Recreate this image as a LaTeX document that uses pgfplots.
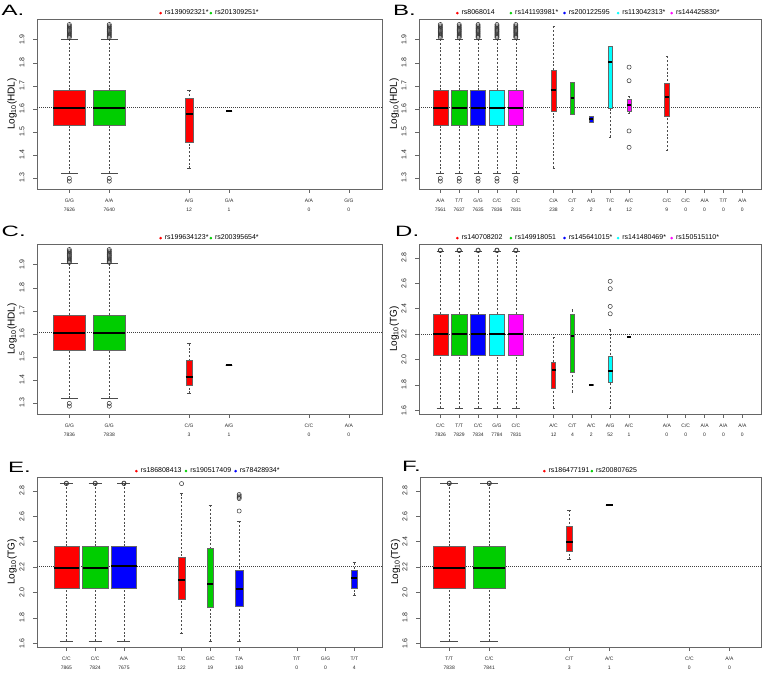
\documentclass[border=0pt]{standalone}
\usepackage{fontspec}
\setmainfont{Liberation Sans}
\usepackage{graphicx}
\usepackage{pgfplots}
\usepackage{pgfplotstable}
\pgfplotsset{compat=1.18}
\usepgfplotslibrary{statistics}

\definecolor{rred}{HTML}{FF0000}
\definecolor{rgreen}{HTML}{00CD00}
\definecolor{rblue}{HTML}{0000FF}
\definecolor{rcyan}{HTML}{00FFFF}
\definecolor{rmag}{HTML}{FF00FF}

% outliers of the big groups
\pgfplotstableread[row sep=\\]{d\\1.91\\1.915\\1.92\\1.925\\1.93\\1.935\\1.94\\1.945\\1.95\\1.955\\1.96\\1.966\\1.298\\1.286\\}\hdlout
\pgfplotstableread[row sep=\\]{d\\2.858\\2.862\\}\tgout
% outliers of the small groups
\pgfplotstableread[row sep=\\]{d\\1.781\\1.722\\1.504\\1.433\\}\bmagout
\pgfplotstableread[row sep=\\]{d\\2.616\\2.558\\2.418\\2.36\\}\dcyanout
\pgfplotstableread[row sep=\\]{d\\2.858\\}\eredout
\pgfplotstableread[row sep=\\]{d\\2.642\\2.74\\2.75\\2.76\\2.772\\}\eblueout

\tikzset{
  wsk/.style={black!70, line width=0.5pt, dash pattern=on 2pt off 1.8pt},
  stp/.style={black!70, line width=0.6pt, solid},
  refl/.style={black!75, line width=0.5pt, dash pattern=on 0.8pt off 1.2pt},
}

\pgfplotsset{
  boxplot/draw/lower whisker/.code={%
    \draw[wsk] (boxplot cs:\pgfplotsboxplotvalue{lower whisker}) -- (boxplot cs:\pgfplotsboxplotvalue{lower quartile});
    \draw[stp] (boxplot whisker cs:\pgfplotsboxplotvalue{lower whisker},0) -- (boxplot whisker cs:\pgfplotsboxplotvalue{lower whisker},1);
  },
  boxplot/draw/upper whisker/.code={%
    \draw[wsk] (boxplot cs:\pgfplotsboxplotvalue{upper whisker}) -- (boxplot cs:\pgfplotsboxplotvalue{upper quartile});
    \draw[stp] (boxplot whisker cs:\pgfplotsboxplotvalue{upper whisker},0) -- (boxplot whisker cs:\pgfplotsboxplotvalue{upper whisker},1);
  },
  bx/.style={forget plot, black, mark=o, mark size=2.1pt,
    boxplot/draw direction=y,
    mark options={black!80, solid, line width=0.5pt, fill=none},
    boxplot/every box/.style={fill=#1, draw=black!60, line width=0.4pt},
    boxplot/every median/.style={black, line width=2pt}},
  panel/.style={
    scale only axis, width=#1, height=170pt, anchor=south west,
    axis line style={black!60, line width=0.6pt},
    tick pos=left, tick align=outside, major tick length=4pt,
    tick style={black!60, line width=0.5pt},
    xticklabel style={align=center, font=\fontsize{5}{9.5}\selectfont, text=black!85},
    yticklabel style={rotate=90, anchor=south, font=\fontsize{7}{8}\selectfont, text=black!85},
    yticklabel shift=5pt, xticklabel shift=2pt,
    ylabel style={at={(axis description cs:-0.072,0.5)}, anchor=center, font=\fontsize{10}{11}\selectfont},
    legend style={at={(0.5,1)}, anchor=south, yshift=1.5pt, draw=none, fill=none,
      inner sep=0pt, font=\fontsize{7}{8}\selectfont, nodes={inner sep=1pt},
      /tikz/every odd column/.append style={column sep=2pt}},
    legend columns=-1,
    legend image code/.code={\fill[##1] (0pt,0pt) circle (1.1pt);},
  },
  hdl/.style={ymin=1.252, ymax=1.99, ytick={1.3,1.4,1.5,1.6,1.7,1.8,1.9},
    yticklabels={1.3,1.4,1.5,1.6,1.7,1.8,1.9}, ylabel={Log\textsubscript{10}(HDL)}},
  tg/.style={ymin=1.57, ymax=2.91, ytick={1.6,1.8,2.0,2.2,2.4,2.6,2.8},
    yticklabels={1.6,1.8,2.0,2.2,2.4,2.6,2.8}, ylabel={Log\textsubscript{10}(TG)}},
}

\newcommand{\plab}[1]{\fontsize{15}{15}\selectfont\scalebox{1.6}[1]{#1}}

\begin{document}
\begin{tikzpicture}
\useasboundingbox (0,0) rectangle (765pt,672pt);

% ---------------- A ----------------
\begin{axis}[panel=345pt, at={(37pt,483pt)}, hdl,
  xmin=0.19, xmax=8.83, xtick={1,2,4,5,7,8},
  xticklabels={{G/G\\7626},{A/A\\7640},{A/G\\12},{G/A\\1},{A/A\\0},{G/G\\0}}]
\addlegendimage{rred}\addlegendentry{rs139092321*}
\addlegendimage{rgreen}\addlegendentry{rs201309251*}
\addplot[forget plot, refl] coordinates {(0.19,1.606) (8.83,1.606)};
\addplot[bx=rred, boxplot prepared={draw position=1, median=1.603, lower quartile=1.53, upper quartile=1.682, lower whisker=1.321, upper whisker=1.903, box extend=0.8, whisker extend=0.42}] table[y index=0] {\hdlout};
\addplot[bx=rgreen, boxplot prepared={draw position=2, median=1.603, lower quartile=1.53, upper quartile=1.682, lower whisker=1.321, upper whisker=1.903, box extend=0.8, whisker extend=0.42}] table[y index=0] {\hdlout};
\addplot[bx=rred, boxplot prepared={draw position=4, median=1.578, lower quartile=1.454, upper quartile=1.647, lower whisker=1.341, upper whisker=1.682, box extend=0.18, whisker extend=0.1}] coordinates {};
\addplot[bx=rred, boxplot prepared={draw position=5, median=1.59, lower quartile=1.59, upper quartile=1.59, lower whisker=1.59, upper whisker=1.59, box extend=0.15, whisker extend=0}] coordinates {};
\end{axis}

% ---------------- B ----------------
\begin{axis}[panel=342pt, at={(419pt,483pt)}, hdl,
  xmin=-0.13, xmax=17.99, xtick={1,2,3,4,5,7,8,9,10,11,13,14,15,16,17},
  xticklabels={{A/A\\7561},{T/T\\7637},{G/G\\7635},{C/C\\7836},{C/C\\7831},{C/A\\238},{C/T\\2},{A/G\\2},{T/C\\4},{A/C\\12},{C/C\\9},{C/C\\0},{A/A\\0},{T/T\\0},{A/A\\0}}]
\addlegendimage{rred}\addlegendentry{\makebox[47pt][l]{rs8068014}}
\addlegendimage{rgreen}\addlegendentry{\makebox[47pt][l]{rs141193981*}}
\addlegendimage{rblue}\addlegendentry{\makebox[47pt][l]{rs200122595}}
\addlegendimage{rcyan}\addlegendentry{\makebox[47pt][l]{rs113042313*}}
\addlegendimage{rmag}\addlegendentry{\makebox[47pt][l]{rs144425830*}}
\addplot[forget plot, refl] coordinates {(-0.13,1.605) (17.99,1.605)};
\addplot[bx=rred, boxplot prepared={draw position=1, median=1.603, lower quartile=1.53, upper quartile=1.682, lower whisker=1.321, upper whisker=1.903, box extend=0.8, whisker extend=0.42}] table[y index=0] {\hdlout};
\addplot[bx=rgreen, boxplot prepared={draw position=2, median=1.603, lower quartile=1.53, upper quartile=1.682, lower whisker=1.321, upper whisker=1.903, box extend=0.8, whisker extend=0.42}] table[y index=0] {\hdlout};
\addplot[bx=rblue, boxplot prepared={draw position=3, median=1.603, lower quartile=1.53, upper quartile=1.682, lower whisker=1.321, upper whisker=1.903, box extend=0.8, whisker extend=0.42}] table[y index=0] {\hdlout};
\addplot[bx=rcyan, boxplot prepared={draw position=4, median=1.603, lower quartile=1.53, upper quartile=1.682, lower whisker=1.321, upper whisker=1.903, box extend=0.8, whisker extend=0.42}] table[y index=0] {\hdlout};
\addplot[bx=rmag, boxplot prepared={draw position=5, median=1.603, lower quartile=1.53, upper quartile=1.682, lower whisker=1.321, upper whisker=1.903, box extend=0.8, whisker extend=0.42}] table[y index=0] {\hdlout};
\addplot[bx=rred, boxplot prepared={draw position=7, median=1.681, lower quartile=1.59, upper quartile=1.769, lower whisker=1.344, upper whisker=1.958, box extend=0.3, whisker extend=0.1}] coordinates {};
\addplot[bx=rgreen, boxplot prepared={draw position=8, median=1.647, lower quartile=1.578, upper quartile=1.714, lower whisker=1.578, upper whisker=1.714, box extend=0.2, whisker extend=0}] coordinates {};
\addplot[bx=rblue, boxplot prepared={draw position=9, median=1.555, lower quartile=1.543, upper quartile=1.568, lower whisker=1.543, upper whisker=1.568, box extend=0.22, whisker extend=0}] coordinates {};
\addplot[bx=rcyan, boxplot prepared={draw position=10, median=1.803, lower quartile=1.604, upper quartile=1.872, lower whisker=1.477, upper whisker=1.872, box extend=0.22, whisker extend=0.1}] coordinates {};
\addplot[bx=rmag, boxplot prepared={draw position=11, median=1.618, lower quartile=1.588, upper quartile=1.641, lower whisker=1.58, upper whisker=1.654, box extend=0.22, whisker extend=0.1}] table[y index=0] {\bmagout};
\addplot[bx=rred, boxplot prepared={draw position=13, median=1.652, lower quartile=1.566, upper quartile=1.713, lower whisker=1.418, upper whisker=1.828, box extend=0.23, whisker extend=0.1}] coordinates {};
\end{axis}

% ---------------- C ----------------
\begin{axis}[panel=345pt, at={(37pt,258pt)}, hdl,
  xmin=0.19, xmax=8.83, xtick={1,2,4,5,7,8},
  xticklabels={{G/G\\7836},{G/G\\7838},{C/G\\3},{A/G\\1},{C/C\\0},{A/A\\0}}]
\addlegendimage{rred}\addlegendentry{rs199634123*}
\addlegendimage{rgreen}\addlegendentry{rs200395654*}
\addplot[forget plot, refl] coordinates {(0.19,1.607) (8.83,1.607)};
\addplot[bx=rred, boxplot prepared={draw position=1, median=1.604, lower quartile=1.531, upper quartile=1.681, lower whisker=1.32, upper whisker=1.905, box extend=0.8, whisker extend=0.42}] table[y index=0] {\hdlout};
\addplot[bx=rgreen, boxplot prepared={draw position=2, median=1.604, lower quartile=1.531, upper quartile=1.681, lower whisker=1.32, upper whisker=1.905, box extend=0.8, whisker extend=0.42}] table[y index=0] {\hdlout};
\addplot[bx=rred, boxplot prepared={draw position=4, median=1.414, lower quartile=1.377, upper quartile=1.484, lower whisker=1.341, upper whisker=1.557, box extend=0.17, whisker extend=0.1}] coordinates {};
\addplot[bx=rred, boxplot prepared={draw position=5, median=1.463, lower quartile=1.463, upper quartile=1.463, lower whisker=1.463, upper whisker=1.463, box extend=0.17, whisker extend=0}] coordinates {};
\end{axis}

% ---------------- D ----------------
\begin{axis}[panel=342pt, at={(419pt,258pt)}, tg,
  xmin=-0.13, xmax=17.99, xtick={1,2,3,4,5,7,8,9,10,11,13,14,15,16,17},
  xticklabels={{C/C\\7826},{T/T\\7829},{C/C\\7834},{G/G\\7784},{C/C\\7831},{A/C\\12},{C/T\\4},{A/C\\2},{A/G\\52},{A/C\\1},{A/A\\0},{C/C\\0},{A/A\\0},{A/A\\0},{A/A\\0}}]
\addlegendimage{rred}\addlegendentry{\makebox[47pt][l]{rs140708202}}
\addlegendimage{rgreen}\addlegendentry{\makebox[47pt][l]{rs149918051}}
\addlegendimage{rblue}\addlegendentry{\makebox[47pt][l]{rs145641015*}}
\addlegendimage{rcyan}\addlegendentry{\makebox[47pt][l]{rs141480469*}}
\addlegendimage{rmag}\addlegendentry{\makebox[47pt][l]{rs150515110*}}
\addplot[forget plot, refl] coordinates {(-0.13,2.2) (17.99,2.2)};
\addplot[bx=rred, boxplot prepared={draw position=1, median=2.197, lower quartile=2.034, upper quartile=2.358, lower whisker=1.617, upper whisker=2.855, box extend=0.8, whisker extend=0.4}] table[y index=0] {\tgout};
\addplot[bx=rgreen, boxplot prepared={draw position=2, median=2.197, lower quartile=2.032, upper quartile=2.358, lower whisker=1.617, upper whisker=2.855, box extend=0.8, whisker extend=0.4}] table[y index=0] {\tgout};
\addplot[bx=rblue, boxplot prepared={draw position=3, median=2.197, lower quartile=2.032, upper quartile=2.358, lower whisker=1.617, upper whisker=2.855, box extend=0.8, whisker extend=0.4}] table[y index=0] {\tgout};
\addplot[bx=rcyan, boxplot prepared={draw position=4, median=2.2, lower quartile=2.036, upper quartile=2.36, lower whisker=1.617, upper whisker=2.855, box extend=0.8, whisker extend=0.4}] table[y index=0] {\tgout};
\addplot[bx=rmag, boxplot prepared={draw position=5, median=2.197, lower quartile=2.032, upper quartile=2.358, lower whisker=1.617, upper whisker=2.855, box extend=0.8, whisker extend=0.4}] table[y index=0] {\tgout};
\addplot[bx=rred, boxplot prepared={draw position=7, median=1.918, lower quartile=1.774, upper quartile=1.979, lower whisker=1.616, upper whisker=2.176, box extend=0.22, whisker extend=0.1}] coordinates {};
\addplot[bx=rgreen, boxplot prepared={draw position=8, median=2.187, lower quartile=1.9, upper quartile=2.353, lower whisker=1.742, upper whisker=2.392, box extend=0.2, whisker extend=0.1}] coordinates {};
\addplot[bx=rblue, boxplot prepared={draw position=9, median=1.8, lower quartile=1.795, upper quartile=1.805, lower whisker=1.795, upper whisker=1.805, box extend=0.23, whisker extend=0}] coordinates {};
\addplot[bx=rcyan, boxplot prepared={draw position=10, median=1.911, lower quartile=1.821, upper quartile=2.024, lower whisker=1.616, upper whisker=2.234, box extend=0.25, whisker extend=0.1}] table[y index=0] {\dcyanout};
\addplot[bx=rmag, boxplot prepared={draw position=11, median=2.176, lower quartile=2.176, upper quartile=2.176, lower whisker=2.176, upper whisker=2.176, box extend=0.18, whisker extend=0}] coordinates {};
\end{axis}

% ---------------- E ----------------
\begin{axis}[panel=345pt, at={(37pt,25pt)}, tg,
  xmin=-0.02, xmax=11.96, xtick={1,2,3,5,6,7,9,10,11},
  xticklabels={{C/C\\7865},{C/C\\7824},{A/A\\7675},{T/C\\122},{G/C\\19},{T/A\\160},{T/T\\0},{G/G\\0},{T/T\\4}}]
\addlegendimage{rred}\addlegendentry{\makebox[43pt][l]{rs186808413}}
\addlegendimage{rgreen}\addlegendentry{\makebox[43pt][l]{rs190517409}}
\addlegendimage{rblue}\addlegendentry{\makebox[43pt][l]{rs78428934*}}
\addplot[forget plot, refl] coordinates {(-0.02,2.203) (11.96,2.203)};
\addplot[bx=rred, boxplot prepared={draw position=1, median=2.195, lower quartile=2.032, upper quartile=2.361, lower whisker=1.616, upper whisker=2.858, box extend=0.88, whisker extend=0.45}] table[y index=0] {\tgout};
\addplot[bx=rgreen, boxplot prepared={draw position=2, median=2.195, lower quartile=2.032, upper quartile=2.361, lower whisker=1.616, upper whisker=2.858, box extend=0.88, whisker extend=0.45}] table[y index=0] {\tgout};
\addplot[bx=rblue, boxplot prepared={draw position=3, median=2.205, lower quartile=2.032, upper quartile=2.361, lower whisker=1.616, upper whisker=2.858, box extend=0.88, whisker extend=0.45}] table[y index=0] {\tgout};
\addplot[bx=rred, boxplot prepared={draw position=5, median=2.095, lower quartile=1.945, upper quartile=2.279, lower whisker=1.676, upper whisker=2.779, box extend=0.25, whisker extend=0.12}] table[y index=0] {\eredout};
\addplot[bx=rgreen, boxplot prepared={draw position=6, median=2.063, lower quartile=1.884, upper quartile=2.347, lower whisker=1.616, upper whisker=2.687, box extend=0.2, whisker extend=0.12}] coordinates {};
\addplot[bx=rblue, boxplot prepared={draw position=7, median=2.024, lower quartile=1.892, upper quartile=2.179, lower whisker=1.616, upper whisker=2.563, box extend=0.25, whisker extend=0.12}] table[y index=0] {\eblueout};
\addplot[bx=rblue, boxplot prepared={draw position=11, median=2.11, lower quartile=2.037, upper quartile=2.179, lower whisker=1.976, upper whisker=2.234, box extend=0.2, whisker extend=0.12}] coordinates {};
\end{axis}

% ---------------- F ----------------
\begin{axis}[panel=341pt, at={(420pt,25pt)}, tg,
  xmin=0.27, xmax=8.79, xtick={1,2,4,5,7,8},
  xticklabels={{T/T\\7838},{C/C\\7841},{C/T\\3},{A/C\\1},{C/C\\0},{A/A\\0}}]
\addlegendimage{rred}\addlegendentry{rs186477191}
\addlegendimage{rgreen}\addlegendentry{rs200807625}
\addplot[forget plot, refl] coordinates {(0.27,2.203) (8.79,2.203)};
\addplot[bx=rred, boxplot prepared={draw position=1, median=2.195, lower quartile=2.032, upper quartile=2.361, lower whisker=1.616, upper whisker=2.858, box extend=0.8, whisker extend=0.45}] table[y index=0] {\tgout};
\addplot[bx=rgreen, boxplot prepared={draw position=2, median=2.195, lower quartile=2.032, upper quartile=2.361, lower whisker=1.616, upper whisker=2.858, box extend=0.8, whisker extend=0.45}] table[y index=0] {\tgout};
\addplot[bx=rred, boxplot prepared={draw position=4, median=2.397, lower quartile=2.326, upper quartile=2.521, lower whisker=2.261, upper whisker=2.647, box extend=0.17, whisker extend=0.1}] coordinates {};
\addplot[bx=rred, boxplot prepared={draw position=5, median=2.687, lower quartile=2.687, upper quartile=2.687, lower whisker=2.687, upper whisker=2.687, box extend=0.17, whisker extend=0}] coordinates {};
\end{axis}

% panel letters
\node[anchor=base west, inner sep=0pt] at (1.5pt,656pt) {\plab{A.}};
\node[anchor=base west, inner sep=0pt] at (393pt,656pt) {\plab{B.}};
\node[anchor=base west, inner sep=0pt] at (1.5pt,435pt) {\plab{C.}};
\node[anchor=base west, inner sep=0pt] at (395pt,435pt) {\plab{D.}};
\node[anchor=base west, inner sep=0pt] at (8pt,199pt) {\plab{E.}};
\node[anchor=base west, inner sep=0pt] at (402pt,200pt) {\plab{F.}};
\end{tikzpicture}
\end{document}
